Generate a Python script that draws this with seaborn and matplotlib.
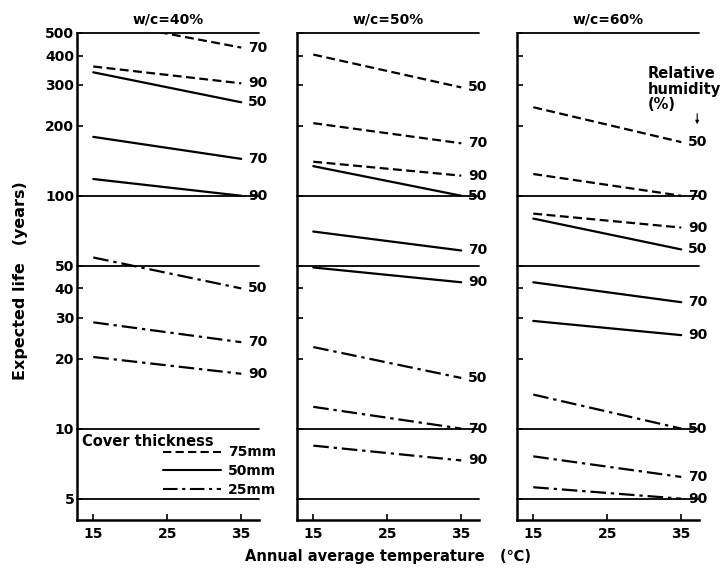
import numpy as np
import pandas as pd
import matplotlib.pyplot as plt
import seaborn as sns
from matplotlib.lines import Line2D
from matplotlib.ticker import NullLocator

# Data: expected life (years) at 15 and 35 degC
temps = [15, 35]
panel_titles = ["w/c=40%", "w/c=50%", "w/c=60%"]

# w/c=40%: the 75mm / RH 50% line lies above 500 years, so it is not drawn
wc40_cover = ["75mm", "75mm", "50mm", "50mm", "50mm", "25mm", "25mm", "25mm"]
wc40_rh = [70, 90, 50, 70, 90, 50, 70, 90]
wc40_at15 = [570, 359, 339, 179, 118, 54.3, 28.6, 20.3]
wc40_at35 = [433, 304, 252, 144, 100, 40, 23.5, 17.2]

wc_cover = ["75mm"] * 3 + ["50mm"] * 3 + ["25mm"] * 3
wc_rh = [50, 70, 90] * 3
wc50_at15 = [404, 205, 140, 134, 70.2, 49.2, 22.4, 12.4, 8.45]
wc50_at35 = [292, 168, 122, 100, 58.2, 42.5, 16.5, 10, 7.3]
wc60_at15 = [240, 124, 83.8, 79.8, 42.5, 29, 14, 7.6, 5.6]
wc60_at35 = [170, 100, 73, 58.8, 34.9, 25.2, 10, 6.2, 5]

ref_lines = [5, 10, 50, 100, 500]
ytick_vals = [5, 10, 20, 30, 40, 50, 100, 200, 300, 400, 500]
xtick_vals = [15, 25, 35]
cover_order = ["75mm", "50mm", "25mm"]
cover_dashes = {"75mm": (4, 2), "50mm": "", "25mm": (7, 2.2, 1.5, 2.2)}

panel_data = [
    (wc40_cover, wc40_rh, wc40_at15, wc40_at35),
    (wc_cover, wc_rh, wc50_at15, wc50_at35),
    (wc_cover, wc_rh, wc60_at15, wc60_at35),
]

rows = []
for title, (cov, rh, a15, a35) in zip(panel_titles, panel_data):
    for c, h, v15, v35 in zip(cov, rh, a15, a35):
        for t, v in zip(temps, [v15, v35]):
            rows.append({"panel": title, "cover": c, "rh": h,
                         "line": f"{c}-{h}", "temp": t, "life": v})
df = pd.DataFrame(rows)

sns.set_style("ticks")
plt.rcParams["font.family"] = ["DejaVu Sans"]
plt.rcParams["font.weight"] = "bold"
for key in ["text.color", "axes.labelcolor", "xtick.color", "ytick.color",
            "axes.titlecolor"]:
    plt.rcParams[key] = "black"

fig = plt.figure(figsize=(7.2, 5.73), dpi=100)
lefts = [77 / 720, 297 / 720, 517 / 720]
ax_w = 182 / 720
ax_b = 53 / 573
ax_h = 487 / 573

for i, title in enumerate(panel_titles):
    ax = fig.add_axes([lefts[i], ax_b, ax_w, ax_h])
    ax.set_yscale("log")
    sub = df[df["panel"] == title]
    sns.lineplot(data=sub, x="temp", y="life", units="line", style="cover",
                 style_order=cover_order, dashes=cover_dashes, estimator=None,
                 color="black", lw=1.6, legend=False, ax=ax)
    for v in ref_lines:
        ax.axhline(v, color="black", lw=1.3, clip_on=False, zorder=1)

    ax.set_xlim(12.8, 37.4)
    ax.set_ylim(4.05, 500)
    ax.set_xticks(xtick_vals)
    ax.set_xticklabels([str(x) for x in xtick_vals])
    ax.set_yticks(ytick_vals)
    ax.yaxis.set_minor_locator(NullLocator())
    if i == 0:
        ax.set_yticklabels([str(y) for y in ytick_vals])
    else:
        ax.set_yticklabels([])
    ax.tick_params(direction="in", length=4, width=1.2, labelsize=10)
    ax.tick_params(axis="y", pad=2)
    ax.tick_params(axis="x", pad=5)
    ax.set_xlabel("")
    ax.set_ylabel("")
    ax.set_title(title, fontsize=10, fontweight="bold", pad=7)
    sns.despine(ax=ax)
    for sp in ["left", "bottom"]:
        ax.spines[sp].set_linewidth(1.8)
        ax.spines[sp].set_color("black")

    # humidity labels at the 35 degC end of every line
    ends = sub[sub["temp"] == temps[-1]]
    for _, r in ends.iterrows():
        ax.text(35.9, r["life"], str(r["rh"]), ha="left", va="center",
                fontsize=10)

    if i == 0:
        ax.text(0.03, 0.161, "Cover thickness", transform=ax.transAxes,
                ha="left", va="center", fontsize=10.5)
        handles = [Line2D([], [], color="black", lw=1.5,
                          dashes=cover_dashes[c] if cover_dashes[c] else (None, None))
                   for c in cover_order]
        ax.legend(handles, cover_order, loc="upper left",
                  bbox_to_anchor=(0.47, 0.153), frameon=False,
                  prop={"size": 10, "weight": "bold"},
                  handlelength=4.2, handletextpad=0.5, labelspacing=0.35,
                  borderpad=0, borderaxespad=0)
    if i == 2:
        ax.text(0.72, 0.932, "Relative\nhumidity\n(%)", transform=ax.transAxes,
                ha="left", va="top", fontsize=10.5, linespacing=1.05)
        ax.annotate("", xy=(0.99, 0.807), xytext=(0.99, 0.84),
                    xycoords="axes fraction",
                    arrowprops=dict(arrowstyle="-|>", color="black", lw=0.8,
                                    mutation_scale=5))

fig.text(388 / 720, 1 - 557 / 573, "Annual average temperature   (\u2103)",
         ha="center", va="center", fontsize=10.5)
fig.text(21 / 720, 1 - 281 / 573, "Expected life   (years)",
         ha="center", va="center", rotation=90, fontsize=11.5)

fig.savefig("out.png", dpi=100)
